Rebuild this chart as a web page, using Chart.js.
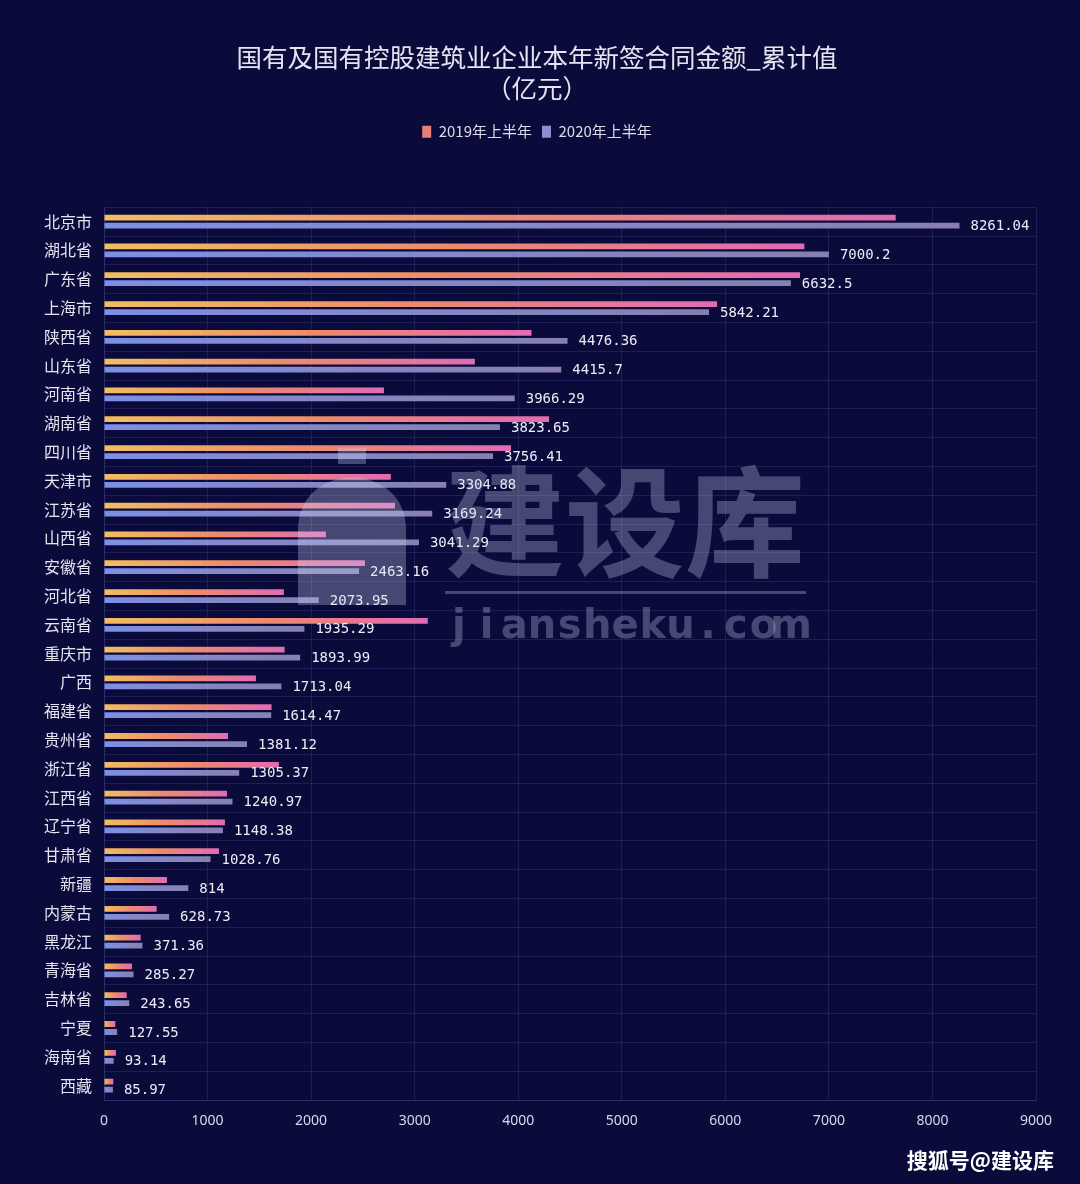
<!DOCTYPE html>
<html>
<head>
<meta charset="utf-8">
<script src="https://cdn.jsdelivr.net/npm/chart.js@4/dist/chart.umd.min.js"></script>
<style>
	html, body { margin: 0; padding: 0; background: #0b0b3b; }
</style>
</head>
<body>
<canvas id="myChart" width="1080" height="1184"></canvas>
<script>
const provinces = [
	"北京市", "湖北省", "广东省", "上海市", "陕西省", "山东省", "河南省", "湖南省",
	"四川省", "天津市", "江苏省", "山西省", "安徽省", "河北省", "云南省", "重庆市",
	"广西", "福建省", "贵州省", "浙江省", "江西省", "辽宁省", "甘肃省", "新疆",
	"内蒙古", "黑龙江", "青海省", "吉林省", "宁夏", "海南省", "西藏",
];
// 2019 values (not labelled in the source)
const values2019 = [
	7645, 6763, 6721, 5920, 4128, 3581, 2703, 4298,
	3930, 2770, 2810, 2143, 2520, 1737, 3127, 1744,
	1467, 1618, 1197, 1689, 1187, 1168, 1110, 608,
	508, 354, 270, 219, 109, 115, 90,
];
const values2020 = [
	8261.04, 7000.2, 6632.5, 5842.21, 4476.36, 4415.7, 3966.29, 3823.65,
	3756.41, 3304.88, 3169.24, 3041.29, 2463.16, 2073.95, 1935.29, 1893.99,
	1713.04, 1614.47, 1381.12, 1305.37, 1240.97, 1148.38, 1028.76, 814,
	628.73, 371.36, 285.27, 243.65, 127.55, 93.14, 85.97,
];
const seriesNames = ["2019年上半年", "2020年上半年"];

const stops2019 = ["#f2bd62", "#ec8a6c", "#e06cb4"];
const stops2020 = ["#7d8fe6", "#8388c8", "#8680b0"];
const legendColors = ["#e8807a", "#8a8fd0"];

const textColor = "#e4e4f0";
const gridColor = "rgba(110,120,200,0.18)";

// each bar gets its own left-to-right gradient
function barGradient(stops) {
	return function (ctx) {
		const chart = ctx.chart;
		const x = chart.scales.x;
		if (!chart.chartArea || !x || ctx.raw === undefined) return stops[stops.length - 1];
		const x0 = x.getPixelForValue(0);
		const x1 = x.getPixelForValue(ctx.raw);
		if (x1 - x0 < 2) return stops[1];
		const g = chart.ctx.createLinearGradient(x0, 0, x1, 0);
		stops.forEach((c, i) => g.addColorStop(i / (stops.length - 1), c));
		return g;
	};
}

const legendMargin = {
	id: "legendMargin",
	beforeInit(chart) {
		const fit = chart.legend.fit;
		chart.legend.fit = function () {
			fit.bind(chart.legend)();
			this.height = 93;
		};
	},
};

const valueLabels = {
	id: "valueLabels",
	afterDatasetsDraw(chart) {
		const meta = chart.getDatasetMeta(1);
		const c = chart.ctx;
		c.save();
		c.font = '14px "DejaVu Sans Mono"';
		c.fillStyle = "#ececf6";
		c.textBaseline = "middle";
		c.textAlign = "left";
		meta.data.forEach((bar, i) => {
			c.fillText(String(values2020[i]), bar.x + 11, bar.y + 1);
		});
		c.restore();
	},
};

const watermark = {
	id: "watermark",
	afterDraw(chart) {
		const c = chart.ctx;
		c.save();
		c.fillStyle = "rgba(210,215,245,0.3)";
		// rough arch-shaped logo
		c.beginPath();
		c.moveTo(298, 605);
		c.lineTo(298, 530);
		c.bezierCurveTo(298, 460, 406, 460, 406, 530);
		c.lineTo(406, 605);
		c.closePath();
		c.fill();
		c.fillRect(338, 448, 28, 16);
		c.font = 'bold 120px "Noto Sans CJK SC"';
		c.textBaseline = "middle";
		c.textAlign = "center";
		c.fillText("建设库", 625, 522);
		c.fillRect(445, 591, 361, 3);
		c.font = 'bold 40px "DejaVu Sans"';
		const word = "jiansheku.com";
		const step = 360 / word.length;
		for (let i = 0; i < word.length; i++) {
			c.fillText(word[i], 445 + step * (i + 0.5), 628);
		}
		c.fillStyle = "#ffffff";
		c.font = 'bold 21px "Noto Sans CJK SC"';
		c.textAlign = "right";
		c.fillText("搜狐号@建设库", 1054, 1160);
		c.restore();
	},
};

const data = {
	labels: provinces,
	datasets: [
		{
			label: seriesNames[0],
			data: values2019,
			backgroundColor: barGradient(stops2019),
		},
		{
			label: seriesNames[1],
			data: values2020,
			backgroundColor: barGradient(stops2020),
		},
	],
};

const config = {
	type: "bar",
	data,
	options: {
		indexAxis: "y",
		responsive: false,
		animation: false,
		categoryPercentage: 0.556,
		barPercentage: 0.72,
		layout: { padding: { top: 42, left: 19, right: 25, bottom: 0 } },
		plugins: {
			title: {
				display: true,
				text: ["国有及国有控股建筑业企业本年新签合同金额_累计值", "（亿元）"],
				color: textColor,
				font: { size: 25.5, family: '"Noto Sans CJK SC"', weight: "normal", lineHeight: 1.22 },
				padding: { top: 0, bottom: 10 },
			},
			legend: {
				display: true,
				labels: {
					color: "#dcdcec",
					boxWidth: 9,
					boxHeight: 12,
					padding: 10,
					font: { size: 15, family: '"Noto Sans CJK SC"' },
					generateLabels: (chart) =>
						chart.data.datasets.map((ds, i) => ({
							text: ds.label,
							fillStyle: legendColors[i],
							strokeStyle: legendColors[i],
							fontColor: "#dcdcec",
							lineWidth: 0,
							hidden: !chart.isDatasetVisible(i),
							datasetIndex: i,
						})),
				},
			},
			tooltip: { enabled: false },
		},
		scales: {
			x: {
				min: 0,
				max: 9000,
				ticks: {
					stepSize: 1000,
					color: "#d8d8ea",
					padding: 13,
					font: { size: 14, family: '"Noto Sans"' },
					callback: (v) => String(v),
				},
				grid: { color: gridColor, drawTicks: false },
				border: { color: gridColor },
				afterFit(scale) { scale.height = 84; },
			},
			y: {
				ticks: {
					color: textColor,
					padding: 12,
					font: { size: 16, family: '"Noto Sans CJK SC"' },
				},
				grid: { color: gridColor, drawTicks: false },
				border: { color: gridColor },
				afterFit(scale) { scale.width = 85; },
			},
			// empty right-hand axis, only reserves margin so title/legend stay centred on the page
			yRight: {
				type: "category",
				position: "right",
				display: true,
				grid: { display: false },
				border: { display: false },
				ticks: { display: false },
				afterFit(scale) { scale.width = 19; },
			},
		},
	},
	plugins: [legendMargin, valueLabels, watermark],
};

var myChart = new Chart(document.getElementById("myChart"), config);
</script>
</body>
</html>
